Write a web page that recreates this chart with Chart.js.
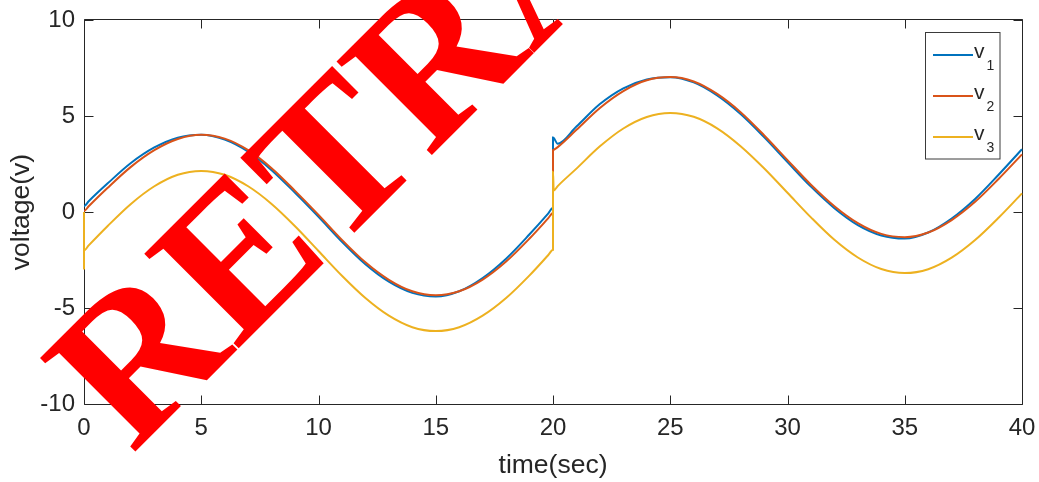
<!DOCTYPE html>
<html>
<head>
<meta charset="utf-8">
<script src="https://cdn.jsdelivr.net/npm/chart.js@4.4.1/dist/chart.umd.min.js"></script>
<style>
html, body { margin: 0; padding: 0; background: #fff; }
#wrap { width: 1039px; height: 482px; }
</style>
</head>
<body>
<div id="wrap"><canvas id="graph"></canvas></div>
<script>
// Time samples (s); repeated values mark the switching instants at 0 and 20 s
const time = [0, 0, 0, 0.2, 1, 2, 3, 4, 5, 6, 7, 8, 9, 10, 11, 12, 13, 14, 15, 16, 17, 18, 19, 19.8,
              20, 20, 20.03, 20.2, 21, 22, 23, 24, 25, 26, 27, 28, 29, 30, 31, 32, 33, 34, 35, 36, 37, 38, 39, 40];

// Voltages
const v1 = [0.3, 0.3, 0.3, 0.56, 1.48, 2.55, 3.36, 3.87, 4.02, 3.77, 3.14, 2.18, 1.0, -0.25, -1.55, -2.72, -3.63, -4.21, -4.4, -4.13, -3.44, -2.43, -1.16, -0.07,
            0.22, 3.88, 3.86, 3.56, 4.45, 5.62, 6.44, 6.9, 7.02, 6.75, 6.07, 5.1, 3.9, 2.6, 1.32, 0.2, -0.68, -1.22, -1.38, -1.07, -0.34, 0.68, 1.94, 3.27];
const v2 = [0.05, 0.05, 0.05, 0.3, 1.25, 2.35, 3.22, 3.8, 4.02, 3.82, 3.22, 2.28, 1.1, -0.15, -1.45, -2.62, -3.53, -4.13, -4.34, -4.13, -3.52, -2.58, -1.38, -0.32,
            -0.05, 3.22, 3.24, 3.38, 4.28, 5.42, 6.3, 6.86, 7.03, 6.8, 6.15, 5.2, 4.0, 2.7, 1.42, 0.3, -0.58, -1.14, -1.31, -1.07, -0.42, 0.53, 1.72, 3.0];
const v3 = [0, -3.0, -2.0, -1.74, -0.74, 0.42, 1.34, 1.94, 2.14, 1.94, 1.34, 0.42, -0.74, -2.03, -3.32, -4.48, -5.4, -6.0, -6.2, -6.0, -5.4, -4.48, -3.3, -2.24,
            -1.97, 2.1, 1.12, 1.35, 2.26, 3.42, 4.35, 4.95, 5.16, 4.96, 4.36, 3.43, 2.28, 1.0, -0.28, -1.45, -2.37, -2.97, -3.18, -2.98, -2.38, -1.46, -0.3, 0.97];

const seriesNames = ['v1', 'v2', 'v3'];
const seriesColors = ['#0072BD', '#D95319', '#EDB120'];
const xTicks = [0, 5, 10, 15, 20, 25, 30, 35, 40];
const yTicks = [-10, -5, 0, 5, 10];

const axisColor = '#262626';
const sans = '"Liberation Sans", Arial, Helvetica, sans-serif';
const tickLen = 9;

const toPoints = vals => time.map((t, i) => ({ x: t, y: vals[i] }));

// MATLAB-like box with inward ticks on all four sides
const boxPlugin = {
    id: 'box',
    beforeDatasetsDraw(chart) {
        const { ctx, chartArea: a, scales: { x, y } } = chart;
        const L = Math.round(a.left) + 0.5, R = Math.round(a.right) + 0.5;
        const T = Math.round(a.top) - 0.5, B = Math.round(a.bottom) + 0.5;
        ctx.save();
        ctx.strokeStyle = axisColor;
        ctx.lineWidth = 1;
        ctx.beginPath();
        ctx.rect(L, T, R - L, B - T);
        xTicks.forEach(v => {
            const px = Math.round(x.getPixelForValue(v)) + 0.5;
            ctx.moveTo(px, B); ctx.lineTo(px, B - tickLen);
            ctx.moveTo(px, T); ctx.lineTo(px, T + tickLen);
        });
        yTicks.forEach(v => {
            const py = Math.round(y.getPixelForValue(v)) + 0.5;
            ctx.moveTo(L, py); ctx.lineTo(L + tickLen, py);
            ctx.moveTo(R, py); ctx.lineTo(R - tickLen, py);
        });
        ctx.stroke();
        ctx.restore();
    }
};

// legend with subscripts (v_1, v_2, v_3), top right inside the axes
const legendPlugin = {
    id: 'subLegend',
    afterDatasetsDraw(chart) {
        const { ctx, chartArea: a } = chart;
        const bx = Math.round(a.right) - 96.5, by = Math.round(a.top) + 12.5, bw = 74.5, bh = 126.5;
        ctx.save();
        ctx.fillStyle = '#fff';
        ctx.fillRect(bx, by, bw, bh);
        ctx.strokeStyle = '#3a3a3a';
        ctx.lineWidth = 1;
        ctx.strokeRect(bx, by, bw, bh);
        seriesNames.forEach((name, i) => {
            const cy = by + 22.5 + i * 41;
            ctx.strokeStyle = seriesColors[i];
            ctx.lineWidth = 2.2;
            ctx.beginPath();
            ctx.moveTo(bx + 7.5, cy);
            ctx.lineTo(bx + 47.5, cy);
            ctx.stroke();
            ctx.fillStyle = axisColor;
            ctx.textBaseline = 'alphabetic';
            ctx.font = '21px ' + sans;
            ctx.fillText(name.charAt(0), bx + 48.5, cy + 2.5);
            ctx.font = '14px ' + sans;
            ctx.fillText(name.slice(1), bx + 61, cy + 14.5);
        });
        ctx.restore();
    }
};

// red diagonal watermark on top of everything
const stampPlugin = {
    id: 'stamp',
    afterDraw(chart) {
        const ctx = chart.ctx;
        ctx.save();
        ctx.translate(132, 455);
        ctx.rotate(-Math.PI / 4);
        ctx.fillStyle = '#ff0000';
        ctx.font = 'bold 204px "Liberation Serif", "Times New Roman", serif';
        ctx.textBaseline = 'alphabetic';
        ctx.fillText('RETRACTED', 0, 0);
        ctx.restore();
    }
};

const ctx = document.getElementById('graph').getContext('2d');

const chart = new Chart(ctx, {
    type: 'line',
    data: {
        datasets: [v1, v2, v3].map((vals, i) => ({
            label: seriesNames[i],
            data: toPoints(vals),
            borderColor: seriesColors[i],
            backgroundColor: seriesColors[i],
            borderWidth: 2,
            pointRadius: 0,
            fill: false,
            tension: 0.4,
            cubicInterpolationMode: 'monotone',
            clip: 4,
            order: 3 - i,
        })),
    },
    options: {
        responsive: true,
        maintainAspectRatio: false,
        animation: false,
        events: [],
        layout: { padding: { left: 6, right: 17, top: 20, bottom: 0 } },
        plugins: {
            legend: { display: false },
            tooltip: { enabled: false },
        },
        scales: {
            x: {
                type: 'linear',
                min: 0,
                max: 40,
                afterFit: s => { s.height = 78; s.paddingLeft = 0; s.paddingRight = 0; },
                afterBuildTicks: s => { s.ticks = xTicks.map(v => ({ value: v })); },
                ticks: { color: axisColor, font: { family: sans, size: 24 }, padding: 10, maxRotation: 0 },
                grid: { display: false, drawTicks: false },
                border: { display: false },
                title: {
                    display: true,
                    text: 'time(sec)',
                    color: axisColor,
                    font: { family: sans, size: 26.5 },
                    padding: { top: 0, bottom: 0 },
                },
            },
            y: {
                min: -10,
                max: 10,
                afterFit: s => { s.width = 78; s.paddingTop = 0; s.paddingBottom = 0; },
                afterBuildTicks: s => { s.ticks = yTicks.map(v => ({ value: v })); },
                ticks: { color: axisColor, font: { family: sans, size: 24 }, padding: 9 },
                grid: { display: false, drawTicks: false },
                border: { display: false },
                title: {
                    display: true,
                    text: 'voltage(v)',
                    color: axisColor,
                    font: { family: sans, size: 26.5 },
                    padding: { top: 0, bottom: 0 },
                },
            },
        },
    },
    plugins: [boxPlugin, legendPlugin, stampPlugin],
});
</script>
</body>
</html>
